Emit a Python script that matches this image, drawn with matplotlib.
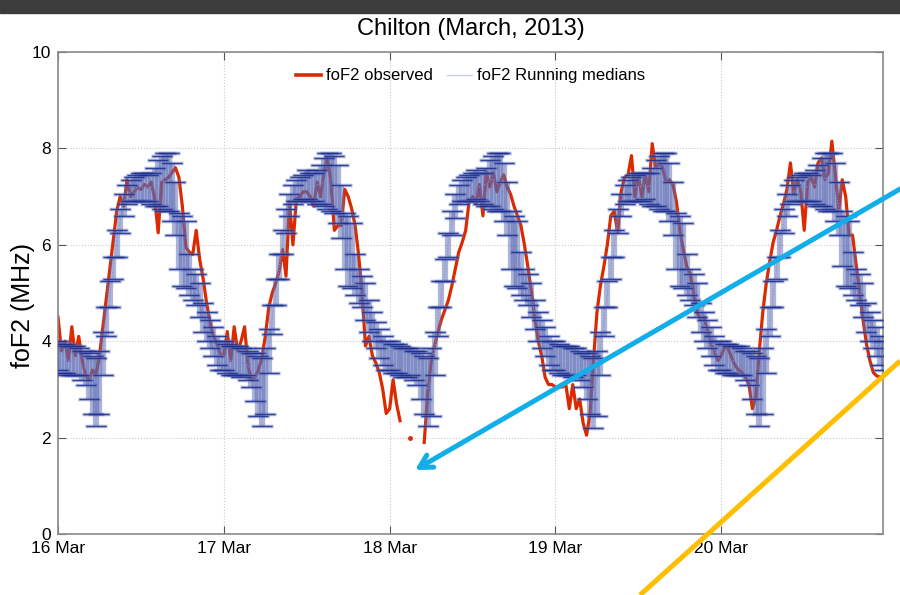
import numpy as np
import matplotlib
matplotlib.use("Agg")
import matplotlib.pyplot as plt
from matplotlib.lines import Line2D
from matplotlib.patches import Rectangle, FancyArrowPatch

nan = np.nan

# ---- data: Chilton foF2, half-hourly samples (MHz) ----
first_day = 16
samples_per_day = 48
day_ticks = [16, 17, 18, 19, 20]
day_labels = ["16 Mar", "17 Mar", "18 Mar", "19 Mar", "20 Mar"]

fof2_16 = [4.50, 3.80, 4.00, 3.60, 4.30, 3.70, 4.10, 3.60, 3.30, 3.20, 3.40, 3.30,
           3.70, 4.30, 4.90, 5.50, 6.10, 6.70, 7.00, 6.80, 7.35, 7.00, 7.10, 7.20,
           7.15, 7.25, 7.20, 7.30, 6.95, 6.25, 7.30, 7.35, 7.40, 7.50, 7.60, 7.40,
           6.80, 5.95, 5.85, 5.80, 6.30, 5.70, 5.30, 4.80, 4.40, 4.10, 3.95, 3.70]
fof2_17 = [3.70, 4.20, 3.60, 4.30, 3.80, 4.00, 4.30, 3.50, 3.20, 3.25, 3.40, 3.65,
           4.10, 4.70, 5.00, 5.20, 5.45, 5.90, 5.35, 6.90, 6.00, 6.95, 7.00, 7.10,
           7.10, 7.00, 6.80, 7.30, 7.00, 7.50, 7.80, 7.30, 6.30, 6.40, 6.40, 7.15,
           7.00, 6.75, 6.40, 5.80, 5.00, 3.90, 4.10, 3.70, 3.55, 3.35, 3.00, 2.50]
fof2_18 = [2.60, 3.20, 2.70, 2.35, nan, nan, 2.00, nan, nan, nan, 1.90, 2.90,
           3.55, 3.90, 4.20, 4.45, 4.65, 4.85, 5.15, 5.50, 5.85, 6.05, 6.30, 6.90,
           7.00, 6.85, 7.25, 6.60, 7.50, 7.20, 7.50, 7.10, 7.30, 7.45, 7.20, 7.05,
           6.80, 6.60, 6.40, 6.00, 5.55, 5.05, 4.50, 4.00, 3.70, 3.25, 3.10, 3.10]
fof2_19 = [3.05, 3.05, 3.05, 3.10, 2.60, 3.10, 2.60, 2.80, 2.30, 2.05, 2.50, 3.60,
           4.60, 5.15, 5.55, 6.00, 6.60, 6.70, 6.25, 7.10, 7.40, 7.45, 7.85, 7.00,
           7.45, 7.00, 7.45, 7.10, 8.10, 7.60, 7.70, 7.60, 7.30, 7.35, 7.25, 6.90,
           6.30, 5.90, 5.55, 5.40, 5.00, 4.60, 4.45, 4.50, 4.20, 3.95, 3.80, 3.60]
fof2_20 = [3.70, 3.90, 3.85, 3.65, 3.50, 3.40, 3.35, 3.25, 3.10, 2.60, 2.85, 3.80,
           4.60, 5.20, 5.65, 6.05, 6.30, 6.60, 6.85, 7.15, 7.70, 7.05, 7.35, 7.10,
           6.30, 7.30, 7.40, 7.20, 7.70, 7.80, 7.35, 7.50, 8.15, 7.45, 6.70, 7.35,
           7.00, 6.20, 6.20, 5.60, 5.05, 4.45, 3.95, 3.60, 3.35, 3.28, 3.25, 3.25]

# running medians (median, lower and upper bounds) per half hour
med_16 = [3.70, 3.65, 3.65, 3.60, 3.60, 3.60, 3.55, 3.50, 3.45, 3.30, 3.10, 3.00,
          3.15, 3.75, 4.40, 4.95, 5.50, 6.00, 6.50, 6.85, 7.05, 7.10, 7.15, 7.20,
          7.20, 7.20, 7.20, 7.20, 7.25, 7.30, 7.35, 7.30, 7.30, 7.10, 6.80, 6.10,
          5.90, 5.70, 5.30, 5.15, 5.05, 4.85, 4.55, 4.35, 4.15, 4.00, 3.80, 3.70]
lo_16 = [3.40, 3.35, 3.35, 3.30, 3.30, 3.30, 3.30, 3.20, 3.10, 2.80, 2.50, 2.25,
         2.50, 3.30, 4.10, 4.70, 5.30, 5.75, 6.25, 6.60, 6.85, 6.90, 6.90, 6.90,
         6.90, 6.90, 6.90, 6.85, 6.80, 6.80, 6.75, 6.70, 6.70, 6.50, 6.20, 5.50,
         5.15, 5.10, 4.95, 4.85, 4.75, 4.50, 4.20, 4.00, 3.85, 3.70, 3.50, 3.40]
hi_16 = [4.00, 3.95, 3.95, 3.90, 3.90, 3.90, 3.85, 3.80, 3.80, 3.75, 3.70, 3.65,
         3.80, 4.20, 4.70, 5.25, 5.75, 6.30, 6.75, 7.05, 7.25, 7.35, 7.40, 7.45,
         7.50, 7.50, 7.45, 7.50, 7.60, 7.75, 7.85, 7.90, 7.90, 7.70, 7.30, 6.65,
         6.60, 6.50, 5.80, 5.50, 5.40, 5.20, 4.80, 4.60, 4.45, 4.30, 4.10, 4.00]

med_17 = [3.70, 3.65, 3.60, 3.60, 3.60, 3.55, 3.55, 3.50, 3.40, 3.25, 3.05, 3.00,
          3.20, 3.80, 4.45, 5.00, 5.50, 6.05, 6.50, 6.85, 7.00, 7.10, 7.15, 7.20,
          7.25, 7.20, 7.20, 7.25, 7.25, 7.30, 7.40, 7.35, 7.30, 7.05, 6.75, 6.10,
          5.85, 5.70, 5.30, 5.10, 5.00, 4.80, 4.55, 4.30, 4.10, 3.95, 3.80, 3.70]
lo_17 = [3.40, 3.35, 3.30, 3.30, 3.30, 3.25, 3.30, 3.20, 3.05, 2.75, 2.45, 2.25,
         2.50, 3.35, 4.15, 4.75, 5.30, 5.80, 6.25, 6.60, 6.85, 6.90, 6.90, 6.95,
         6.95, 6.90, 6.90, 6.85, 6.85, 6.80, 6.75, 6.70, 6.65, 6.45, 6.15, 5.50,
         5.15, 5.10, 4.95, 4.80, 4.70, 4.45, 4.20, 4.00, 3.85, 3.65, 3.50, 3.40]
hi_17 = [4.00, 3.95, 3.90, 3.90, 3.90, 3.85, 3.85, 3.80, 3.75, 3.75, 3.70, 3.65,
         3.85, 4.25, 4.75, 5.30, 5.80, 6.30, 6.75, 7.05, 7.25, 7.35, 7.40, 7.45,
         7.55, 7.50, 7.50, 7.55, 7.65, 7.80, 7.90, 7.90, 7.85, 7.65, 7.25, 6.65,
         6.60, 6.45, 5.80, 5.50, 5.35, 5.20, 4.85, 4.60, 4.40, 4.25, 4.10, 4.00]

med_18 = [3.70, 3.65, 3.65, 3.60, 3.55, 3.55, 3.55, 3.50, 3.45, 3.25, 3.10, 3.00,
          3.20, 3.80, 4.40, 4.95, 5.45, 6.00, 6.45, 6.80, 7.05, 7.10, 7.15, 7.20,
          7.20, 7.25, 7.20, 7.25, 7.25, 7.35, 7.35, 7.35, 7.30, 7.10, 6.80, 6.15,
          5.90, 5.70, 5.30, 5.15, 5.05, 4.85, 4.60, 4.35, 4.15, 4.00, 3.80, 3.70]
lo_18 = [3.40, 3.35, 3.35, 3.30, 3.25, 3.25, 3.30, 3.20, 3.10, 2.80, 2.50, 2.25,
         2.45, 3.30, 4.10, 4.70, 5.25, 5.75, 6.20, 6.55, 6.85, 6.90, 6.90, 6.90,
         6.90, 6.95, 6.90, 6.85, 6.80, 6.80, 6.75, 6.70, 6.70, 6.50, 6.20, 5.50,
         5.15, 5.10, 4.95, 4.85, 4.75, 4.50, 4.25, 4.00, 3.85, 3.70, 3.50, 3.40]
hi_18 = [4.00, 3.95, 3.95, 3.90, 3.85, 3.85, 3.85, 3.80, 3.80, 3.75, 3.70, 3.65,
         3.85, 4.20, 4.70, 5.25, 5.70, 6.25, 6.70, 7.05, 7.25, 7.35, 7.40, 7.45,
         7.50, 7.55, 7.50, 7.50, 7.60, 7.75, 7.85, 7.90, 7.90, 7.70, 7.30, 6.70,
         6.60, 6.50, 5.85, 5.50, 5.40, 5.20, 4.85, 4.60, 4.45, 4.30, 4.10, 4.00]

med_19 = [3.70, 3.65, 3.60, 3.60, 3.60, 3.55, 3.55, 3.50, 3.40, 3.30, 3.10, 3.00,
          3.15, 3.75, 4.40, 4.95, 5.50, 6.00, 6.50, 6.85, 7.05, 7.10, 7.15, 7.20,
          7.20, 7.20, 7.25, 7.20, 7.25, 7.30, 7.35, 7.35, 7.30, 7.10, 6.80, 6.10,
          5.90, 5.65, 5.30, 5.15, 5.05, 4.85, 4.55, 4.35, 4.15, 4.00, 3.80, 3.70]
lo_19 = [3.40, 3.35, 3.30, 3.30, 3.30, 3.25, 3.30, 3.20, 3.05, 2.80, 2.50, 2.20,
         2.45, 3.30, 4.10, 4.70, 5.30, 5.75, 6.25, 6.60, 6.85, 6.90, 6.90, 6.90,
         6.90, 6.90, 6.95, 6.85, 6.80, 6.80, 6.75, 6.70, 6.70, 6.50, 6.20, 5.50,
         5.15, 5.10, 4.95, 4.85, 4.75, 4.50, 4.20, 4.00, 3.85, 3.70, 3.50, 3.40]
hi_19 = [4.00, 3.95, 3.90, 3.90, 3.90, 3.85, 3.85, 3.80, 3.75, 3.75, 3.70, 3.65,
         3.80, 4.20, 4.70, 5.25, 5.75, 6.30, 6.75, 7.05, 7.25, 7.35, 7.40, 7.45,
         7.50, 7.50, 7.50, 7.50, 7.60, 7.75, 7.85, 7.90, 7.90, 7.70, 7.30, 6.65,
         6.60, 6.45, 5.80, 5.50, 5.40, 5.20, 4.80, 4.60, 4.45, 4.30, 4.10, 4.00]

med_20 = [3.70, 3.65, 3.65, 3.60, 3.60, 3.60, 3.55, 3.50, 3.45, 3.30, 3.10, 3.00,
          3.20, 3.80, 4.40, 4.95, 5.50, 6.00, 6.50, 6.85, 7.05, 7.10, 7.15, 7.20,
          7.20, 7.20, 7.20, 7.25, 7.25, 7.30, 7.40, 7.35, 7.30, 7.10, 6.80, 6.15,
          5.90, 5.70, 5.35, 5.15, 5.05, 4.85, 4.55, 4.35, 4.15, 4.00, 3.80, 3.70]
lo_20 = [3.40, 3.35, 3.35, 3.30, 3.30, 3.30, 3.30, 3.20, 3.10, 2.80, 2.50, 2.25,
         2.50, 3.35, 4.10, 4.70, 5.30, 5.75, 6.25, 6.60, 6.85, 6.90, 6.90, 6.90,
         6.90, 6.90, 6.90, 6.85, 6.80, 6.80, 6.75, 6.70, 6.70, 6.50, 6.20, 5.55,
         5.15, 5.10, 4.95, 4.85, 4.75, 4.50, 4.20, 4.00, 3.85, 3.70, 3.50, 3.40]
hi_20 = [4.00, 3.95, 3.95, 3.90, 3.90, 3.90, 3.85, 3.80, 3.80, 3.75, 3.70, 3.65,
         3.85, 4.25, 4.70, 5.25, 5.75, 6.30, 6.75, 7.05, 7.25, 7.35, 7.40, 7.45,
         7.50, 7.50, 7.45, 7.55, 7.65, 7.80, 7.90, 7.90, 7.90, 7.70, 7.30, 6.70,
         6.60, 6.50, 5.85, 5.50, 5.40, 5.20, 4.80, 4.60, 4.45, 4.30, 4.10, 4.00]

observed = np.array(fof2_16 + fof2_17 + fof2_18 + fof2_19 + fof2_20)
median = np.array(med_16 + med_17 + med_18 + med_19 + med_20)
lower = np.array(lo_16 + lo_17 + lo_18 + lo_19 + lo_20)
upper = np.array(hi_16 + hi_17 + hi_18 + hi_19 + hi_20)
t_obs = first_day + np.arange(len(observed)) / samples_per_day
t_med = first_day + np.arange(len(median)) / samples_per_day

# ---- style ----
plt.rcParams["font.family"] = ["Liberation Sans", "DejaVu Sans"]

fig = plt.figure(figsize=(9.0, 5.95), dpi=100)
ax = fig.add_axes([58 / 900, 61 / 595, 825 / 900, 482 / 595])

red = "#DC2A00"
band = "#5a6ab5"
cap_col = "#1f2f8f"

# observed foF2
ax.plot(t_obs, observed, color=red, lw=2.3, solid_joinstyle="round", zorder=2)
isolated = np.isfinite(observed) & ~np.isfinite(np.roll(observed, 1)) & ~np.isfinite(np.roll(observed, -1))
ax.plot(t_obs[isolated], observed[isolated], "o", color=red, ms=2.5, zorder=2)

yerr = [median - lower, upper - median]
# running medians: translucent spread bars with soft caps
ax.errorbar(t_med, median, yerr=yerr, fmt="none", ecolor=band, alpha=0.5,
            elinewidth=4.5, capsize=8, capthick=2.5, zorder=3)
ax.plot(t_med, median, ls=":", color="#8f99d0", lw=0.8, zorder=3)
# dark caps on the spread limits
_, caps, stems = ax.errorbar(t_med, median, yerr=yerr, fmt="none",
                             ecolor=cap_col, elinewidth=0.3, capsize=7.5, capthick=0.9,
                             zorder=4)
for s in stems:
    s.set_alpha(0.2)
for c in caps:
    c.set_alpha(0.85)

ax.set_xlim(16, 20.975)
ax.set_ylim(0, 10)
ax.set_xticks(day_ticks)
ax.set_xticklabels(day_labels)
ax.set_yticks([0, 2, 4, 6, 8, 10])
ax.tick_params(direction="in", length=6, width=0.8, color="#555555",
               top=True, right=True, labelsize=12.5, pad=5)
ax.grid(True, ls=":", color="#c8c8c8", lw=0.8)
for s in ax.spines.values():
    s.set_color("#8a8a8a")
    s.set_linewidth(1.2)

ax.set_title("Chilton (March, 2013)", fontsize=17, pad=12)
ax.set_ylabel("foF2 (MHz)", fontsize=18, va="center")
ax.yaxis.set_label_coords(-0.043, 0.475)

handles = [Line2D([], [], color=red, lw=2.6),
           Line2D([], [], color="#c9cde8", lw=1.0)]
ax.legend(handles, ["foF2 observed", "foF2 Running medians"], loc="upper center",
          bbox_to_anchor=(0.5, 0.997), ncol=2, frameon=False, fontsize=12,
          handlelength=1.5, handletextpad=0.3, columnspacing=0.8)

# overlay: header band and pointer strokes
W, H = 900.0, 595.0
fig.add_artist(Rectangle((0, 1 - 13 / H), 1, 13 / H, transform=fig.transFigure,
                         color="#3c3c3c", zorder=10))
fig.add_artist(FancyArrowPatch((900 / W, 1 - 189 / H), (415 / W, 1 - 470 / H),
                               transform=fig.transFigure, arrowstyle="->,head_length=9,head_width=5",
                               color="#12AEEA", lw=3.6, zorder=10, shrinkA=0, shrinkB=0))
fig.add_artist(Line2D([640 / W, 900 / W], [1 - 595 / H, 1 - 361 / H], transform=fig.transFigure,
                      color="#FFBF00", lw=3.6, zorder=10, solid_capstyle="butt"))

fig.savefig("out.png", dpi=100)
